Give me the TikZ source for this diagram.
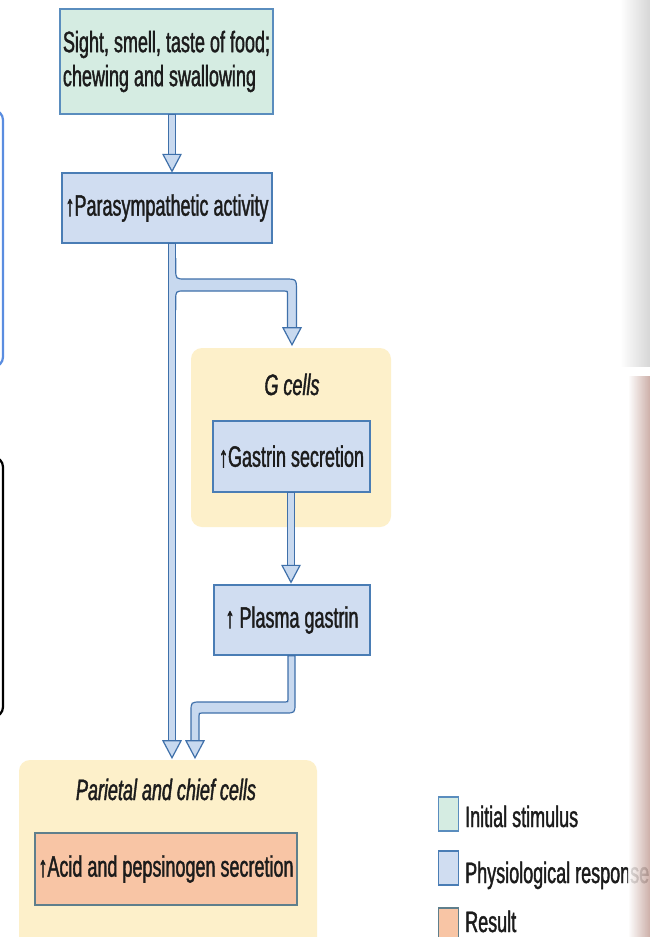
\documentclass[tikz,border=0pt]{standalone}
\usepackage{fontspec}
\setmainfont{Liberation Sans}[FakeStretch=0.61, FakeBold=1.3]
\usetikzlibrary{calc}
\definecolor{stimfill}{HTML}{D5ECE2}
\definecolor{stimdraw}{HTML}{5A8DBE}
\definecolor{respfill}{HTML}{D0DDF1}
\definecolor{respdraw}{HTML}{4A7DB5}
\definecolor{cellfill}{HTML}{FDF0CA}
\definecolor{resfill}{HTML}{F8C5A5}
\definecolor{resdraw}{HTML}{5F7F8C}
\definecolor{tubefill}{HTML}{C8D9EF}
\definecolor{tubedraw}{HTML}{3F70AA}
\definecolor{artblue}{HTML}{5A8DE0}
\definecolor{artbrown}{HTML}{C4A199}
\definecolor{txtcol}{HTML}{1C1C1C}
\tikzset{
  txt/.style={font=\fontsize{29.5}{34}\selectfont, text=txtcol},
  boxbase/.style={txt, rectangle, line width=1.3pt, inner sep=0pt},
  stimbox/.style={boxbase, draw=stimdraw, fill=stimfill},
  respbox/.style={boxbase, draw=respdraw, fill=respfill},
  resbox/.style={boxbase, draw=resdraw, fill=resfill},
  panel/.style={rectangle, rounded corners=11pt, fill=cellfill, inner sep=0pt},
  celllabel/.style={txt, font=\fontsize{29.5}{34}\selectfont\itshape, inner sep=0pt, anchor=base},
  legsq/.style={rectangle, line width=1.2pt, inner sep=0pt, minimum width=19.5pt, minimum height=34pt},
  legtxt/.style={txt, inner sep=0pt, anchor=base west},
  tube/.style={fill=tubefill, draw=tubedraw, line width=1.2pt, line join=miter},
  tubeline/.style={draw=tubedraw, line width=1.2pt},
}
\newcommand{\headdown}[1]{\draw[tube] #1 -- ++(-9,-17) -- ++(18,0) -- cycle;}
\begin{document}
\begin{tikzpicture}[x=1pt,y=-1pt]
\useasboundingbox (0,0) rectangle (650,937);
\fill[white] (0,0) rectangle (650,937);

% cell panels
\node[panel, minimum width=200pt, minimum height=179pt] (gpanel) at (291,437.5) {};
\node[panel, minimum width=298pt, minimum height=200pt] (ppanel) at (168,860) {};
\node[celllabel] (glabel) at (292,395) {G cells};
\node[celllabel] (plabel) at (166,800) {Parietal and chief cells};

% boxes
\node[stimbox, minimum width=213pt, minimum height=105pt, align=left] (stim) at (166.5,61.5)
  {Sight, smell, taste of food;\\chewing and swallowing};
\node[respbox, minimum width=210pt, minimum height=70pt] (para) at (167,208) {\raisebox{-2pt}{↑Parasympathetic activity}};
\node[respbox, minimum width=157pt, minimum height=71pt] (gastrin) at (291.5,456.5) {↑Gastrin secretion};
\node[respbox, minimum width=156pt, minimum height=70pt] (plasma) at (292,620) {↑ Plasma gastrin};
\node[resbox, minimum width=262pt, minimum height=72pt] (acid) at (166,869) {↑Acid and pepsinogen secretion};

% reference x positions
\coordinate (ax) at (172,0);
\coordinate (gx) at (291,0);

% stimulus -> parasympathetic
\draw[tube] ($(stim.south -| ax)+(-3.75,0)$) rectangle ($(para.north -| ax)+(3.75,-18)$);
\headdown{($(para.north -| ax)+(0,-1)$)}

% parasympathetic -> parietal (main shaft)
\draw[tube] ($(para.south -| ax)+(-3.75,0)$) rectangle ($(ppanel.north -| ax)+(3.75,-19)$);

% branch parasympathetic -> G cells
\fill[tubefill] (171,258) -- (175.75,258) -- (175.75,269) .. controls (175.75,279) .. (185.75,279)
  -- (284.5,279) .. controls (296.5,279) .. (296.5,291) -- (296.5,328) -- (287.5,328) -- (287.5,294)
  .. controls (287.5,291) .. (284.5,291) -- (184.75,291) .. controls (175.75,291) .. (175.75,300)
  -- (171,300) -- cycle;
\draw[tubeline] (175.75,258) -- (175.75,269) .. controls (175.75,279) .. (185.75,279)
  -- (284.5,279) .. controls (296.5,279) .. (296.5,291) -- (296.5,328);
\draw[tubeline] (287.5,328) -- (287.5,294) .. controls (287.5,291) .. (284.5,291)
  -- (184.75,291) .. controls (175.75,291) .. (175.75,300) -- (175.75,310);
\headdown{($(gpanel.north -| 292,0)+(0,-3)$)}

% gastrin secretion -> plasma gastrin
\draw[tube] ($(gastrin.south -| gx)+(-3.75,0)$) rectangle ($(plasma.north -| gx)+(3.75,-19)$);
\headdown{($(plasma.north -| gx)+(0,-2)$)}

% plasma gastrin -> parietal
\draw[tube] ($(plasma.south)+(-4,0)$) -- (288,699) .. controls (288,702) .. (285,702)
  -- (201,702) .. controls (191,702) .. (191,712) -- (191,742) -- (199,742) -- (199,716)
  .. controls (199,713) .. (202,713) -- (285,713) .. controls (295,713) .. (295,703)
  -- ($(plasma.south)+(3,0)$) -- cycle;
\headdown{($(ppanel.north -| 195,0)+(0,-2)$)}
\headdown{($(ppanel.north -| ax)+(0,-2)$)}

% legend
\node[legsq, fill=stimfill, draw=stimdraw] (leg1) at (448.5,814) {};
\node[legsq, fill=respfill, draw=respdraw] (leg2) at (448.5,868) {};
\node[legsq, fill=resfill, draw=resdraw] (leg3) at (448.5,925) {};
\node[legtxt] (leg1t) at (465,827) {Initial stimulus};
\node[legtxt] (leg2t) at (465,883) {Physiological response};
\node[legtxt] (leg3t) at (465,932) {Result};

% screen artefacts at the edges
\draw[line width=2.2pt, draw=artblue, rounded corners=10pt] (-30,110) rectangle (3,367);
\draw[line width=2.2pt, draw=black, rounded corners=10pt] (-30,457) rectangle (3,717);
\shade[left color=white, right color=black!16] (620,0) rectangle (650,366);
\shade[left color=white, right color=artbrown, fill opacity=0.85] (628,376) rectangle (650,937);
\end{tikzpicture}
\end{document}
